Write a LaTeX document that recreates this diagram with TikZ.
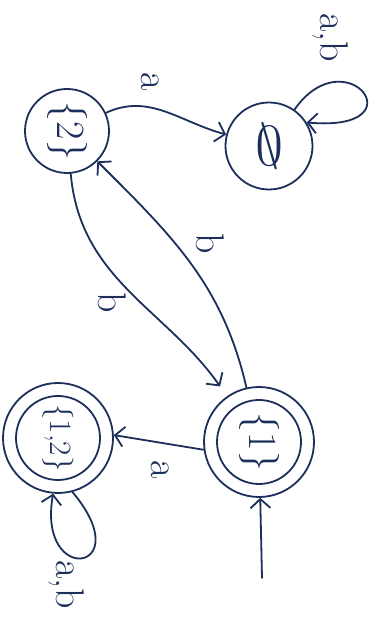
\RequirePackage{fix-cm}
\documentclass[tikz,border=0pt]{standalone}
\usetikzlibrary{arrows.meta}
\definecolor{ink}{RGB}{28,46,90}
\begin{document}
\begin{tikzpicture}[x=1pt,y=1pt,
  state/.style={circle, draw=ink, line width=1.8pt, inner sep=0pt, text=ink},
  edge/.style={draw=ink, line width=1.8pt, line cap=round,
    -{Straight Barb[length=9pt,width=20pt]}},
  ring/.style={draw=ink, line width=1.8pt},
  lab/.style={text=ink, font=\fontsize{40}{46}\selectfont, rotate=-90, inner sep=1pt}]
\useasboundingbox (0,0) rectangle (376,623);
% states
\node[state, minimum size=84pt, font=\fontsize{40}{46}\selectfont] (s2) at (67,492) {\rotatebox{-90}{$\{2\}$}};
\node[state, minimum size=87pt, font=\fontsize{56}{62}\selectfont] (sE) at (269,477) {\reflectbox{$\emptyset$}};
\node[state, minimum size=110pt, font=\fontsize{40}{46}\selectfont] (s1) at (259,181) {\rotatebox{-90}{$\{1\}$}};
\node[state, minimum size=110pt, font=\fontsize{31}{36}\selectfont] (s12) at (58,185) {\rotatebox{-90}{\{1,2\}}};
\draw[ring] (s1.center) circle (42);
\draw[ring] (s12.center) circle (42);
% start
\coordinate (st) at (262,45);
\draw[edge] (st) -- (s1);
% transitions
\draw[edge] (s2) to[out=25,in=165] (sE);
\draw[edge] (s1) to[out=103,in=-45] (s2);
\draw[edge, shorten >=12pt] (s2) to[out=-85,in=125] (s1);
\draw[edge] (s1.188) -- (s12.3);
\draw[edge] (sE.55) .. controls +(55:90) and +(-5:115) .. (sE.32);
\draw[edge] (s12.-75) .. controls +(-50:105) and +(-100:95) .. (s12.-95);
% labels
\node[lab] (la1) at (150,541) {a};
\node[lab] (lb1) at (210,379) {b};
\node[lab] (lb2) at (112,320) {b};
\node[lab] (la2) at (160,153) {a};
\node[lab] (lab1) at (330,585) {a,b};
\node[lab] (lab2) at (66,38) {a,b};
\end{tikzpicture}
\end{document}
